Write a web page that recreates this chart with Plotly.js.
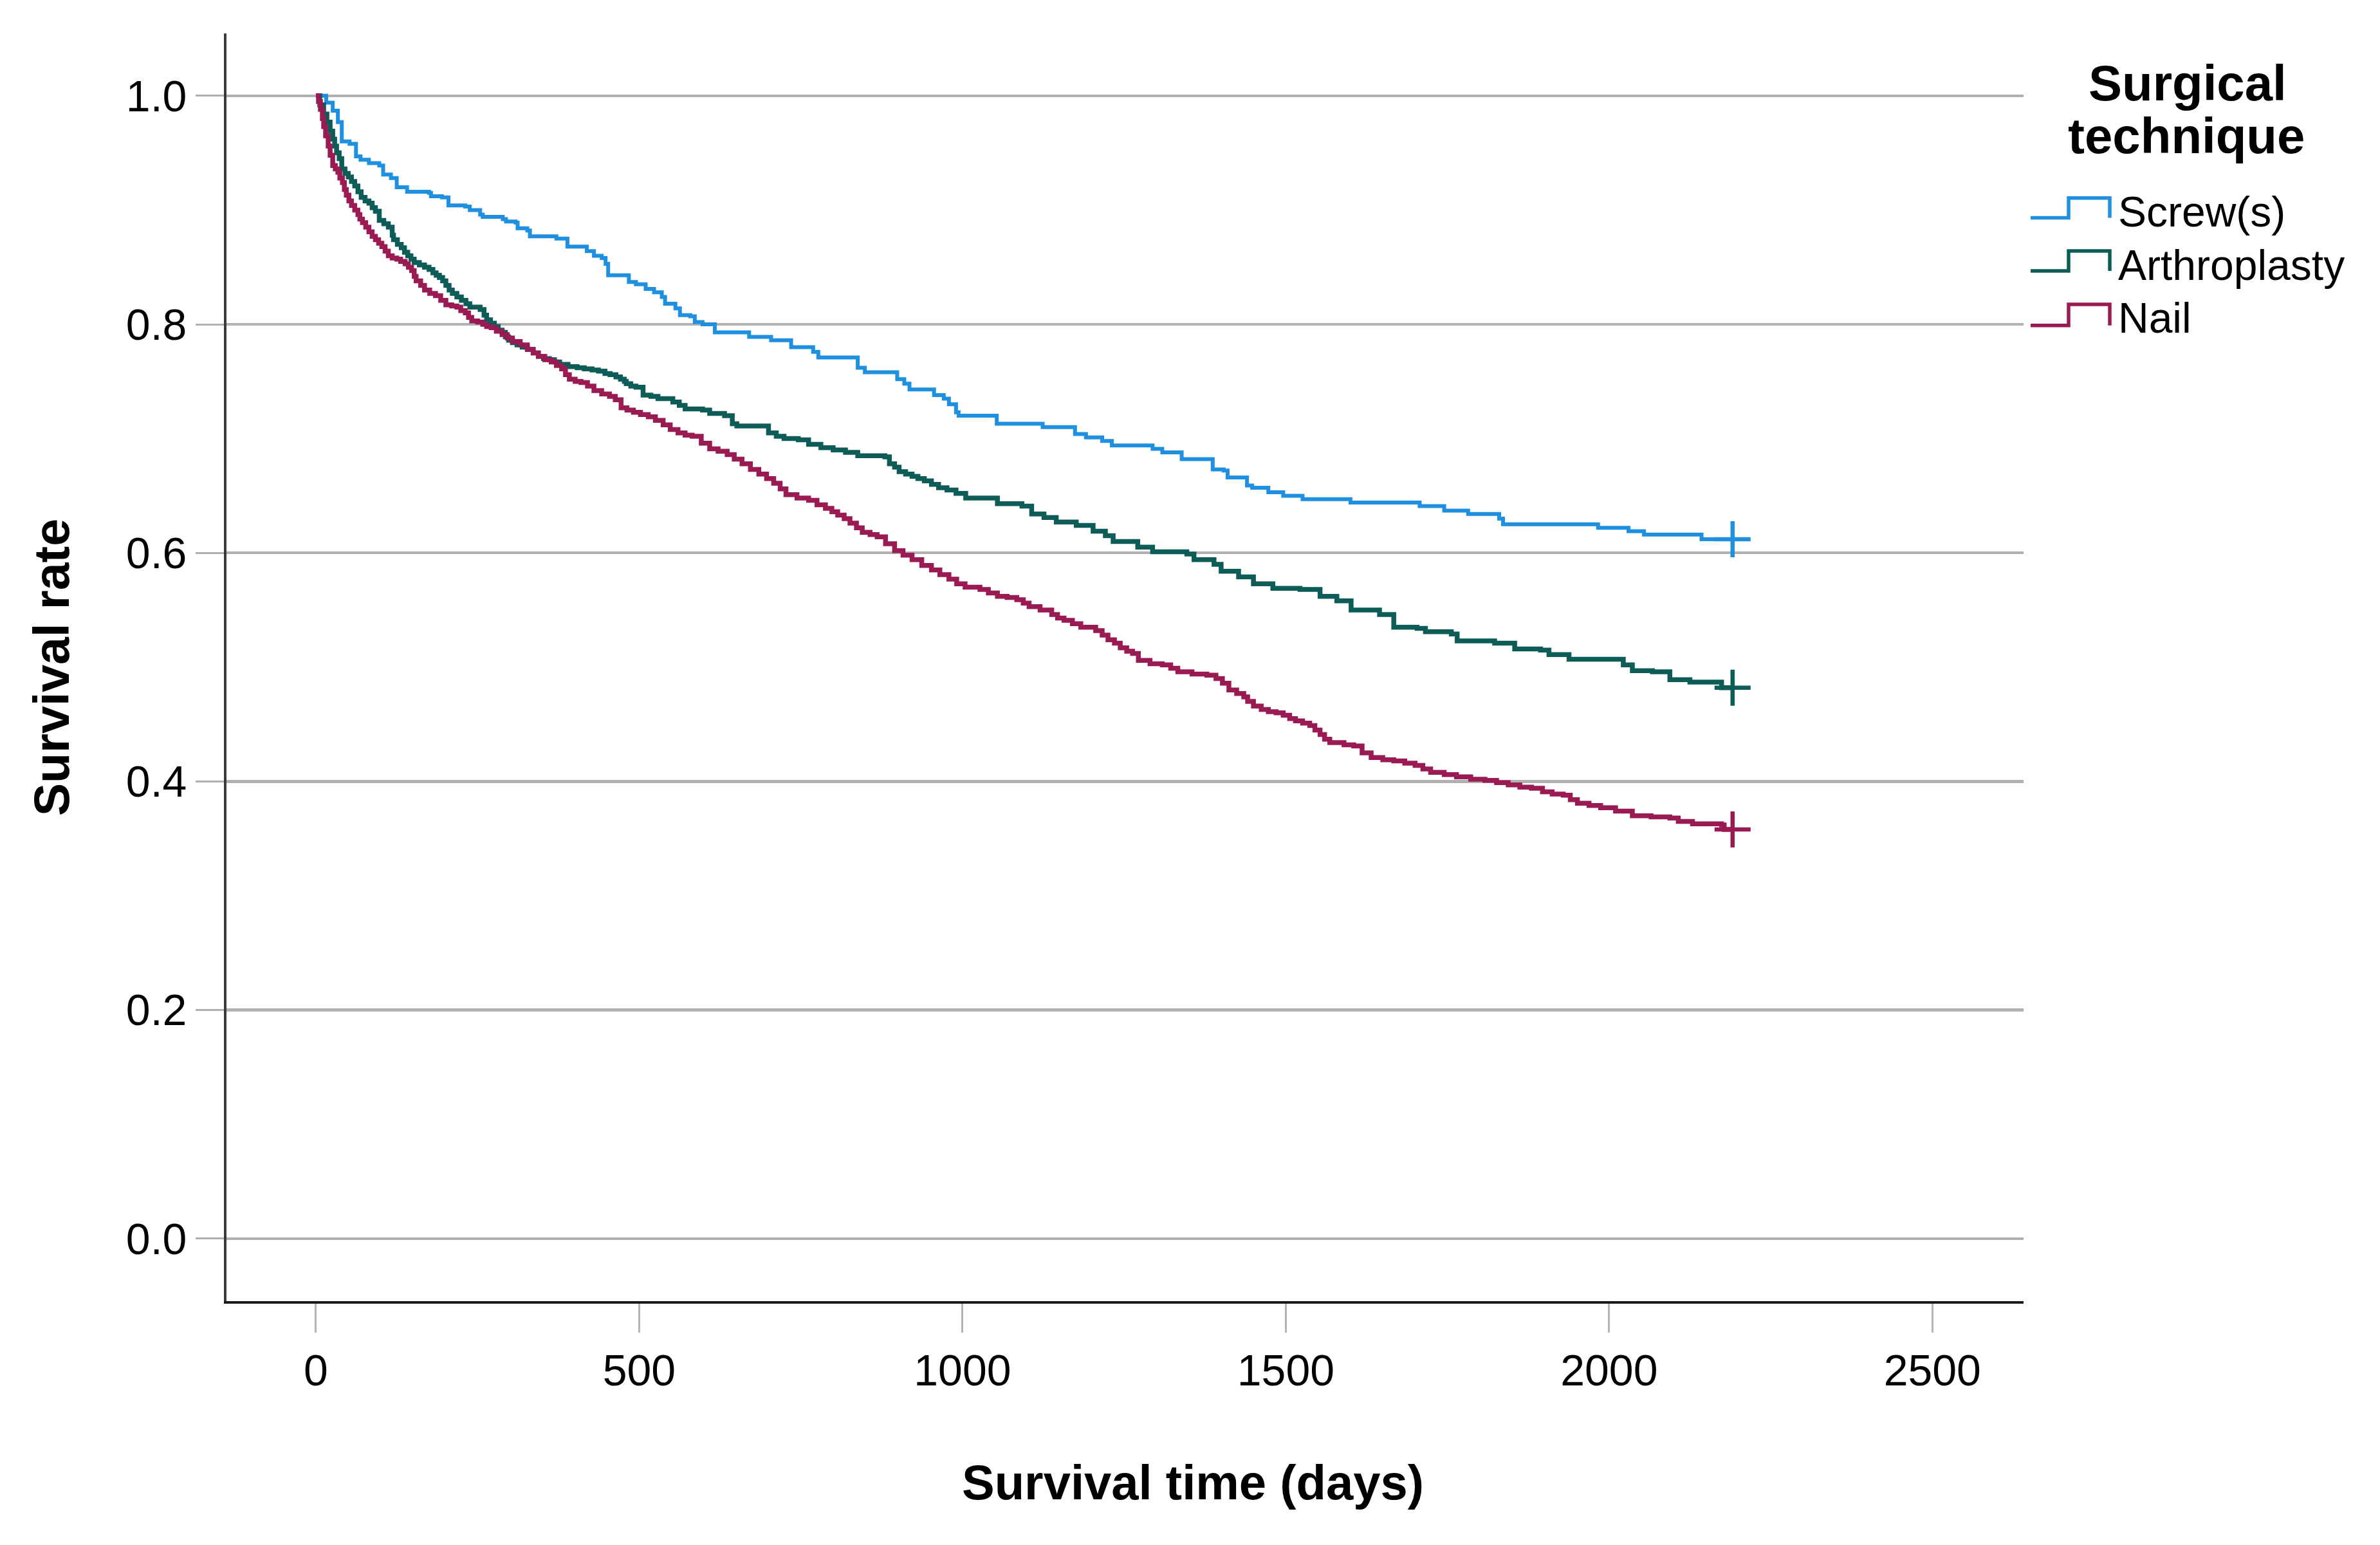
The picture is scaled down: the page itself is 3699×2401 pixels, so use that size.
<!DOCTYPE html>
<html>
<head>
<meta charset="utf-8">
<script src="https://cdn.plot.ly/plotly-3.0.1.min.js"></script>
<style>html,body{margin:0;padding:0;background:#fff;}#chart{width:3699px;height:2401px;}</style>
</head>
<body>
<div id="chart"></div>
<script>
// ---------------- DATA ----------------
const seriesNames = ["Screw(s)", "Arthroplasty", "Nail"];
const xTickVals = [0, 500, 1000, 1500, 2000, 2500];
const yTickVals = [0.0, 0.2, 0.4, 0.6, 0.8, 1.0];

const screwDays = [0,16,26,34,40,52,62,69,82,98,104,116,125,141,175,178,195,205,231,238,254,258,289,294,309,312,327,331,372,389,419,430,442,448,452,484,495,510,523,535,540,556,563,579,586,598,617,670,704,735,769,777,838,849,899,910,918,956,971,979,990,994,1053,1124,1174,1191,1216,1231,1294,1309,1339,1387,1404,1410,1440,1448,1473,1496,1526,1600,1707,1745,1782,1830,1836,1983,2030,2054,2143,2191];
const screwSurv = [1.000,0.994,0.987,0.977,0.960,0.958,0.947,0.944,0.941,0.939,0.931,0.928,0.920,0.916,0.915,0.912,0.911,0.904,0.903,0.900,0.896,0.894,0.892,0.890,0.889,0.884,0.882,0.877,0.875,0.868,0.864,0.860,0.858,0.853,0.843,0.837,0.835,0.831,0.828,0.824,0.818,0.814,0.808,0.807,0.802,0.800,0.793,0.789,0.786,0.780,0.776,0.771,0.762,0.758,0.752,0.748,0.743,0.738,0.735,0.730,0.723,0.720,0.713,0.710,0.704,0.701,0.698,0.694,0.691,0.688,0.682,0.673,0.672,0.666,0.659,0.657,0.653,0.650,0.647,0.644,0.641,0.637,0.634,0.630,0.625,0.622,0.619,0.616,0.612,0.612];

const arthroDays = [0,6,12,17,22,26,29,32,36,40,45,50,55,60,65,70,76,82,87,92,98,105,112,118,120,126,132,137,142,147,152,160,168,175,181,186,191,196,201,206,211,218,225,232,238,254,260,264,270,276,282,288,293,298,304,311,319,327,336,344,352,361,369,377,390,404,415,427,437,447,455,464,471,477,480,487,495,506,518,529,552,562,571,598,609,632,644,651,700,712,724,746,762,781,800,819,838,880,887,895,902,912,922,931,941,952,963,976,990,1005,1054,1092,1107,1126,1145,1176,1202,1221,1233,1271,1294,1347,1358,1389,1400,1427,1450,1480,1522,1553,1579,1601,1645,1667,1703,1716,1756,1765,1823,1854,1894,1907,1938,1992,2022,2036,2067,2094,2125,2160,2174,2191];
const arthroSurv = [1.000,0.992,0.984,0.977,0.969,0.962,0.956,0.950,0.945,0.936,0.932,0.929,0.925,0.921,0.916,0.911,0.908,0.906,0.902,0.899,0.891,0.888,0.885,0.878,0.874,0.870,0.867,0.863,0.860,0.857,0.854,0.852,0.850,0.848,0.845,0.843,0.841,0.838,0.834,0.830,0.827,0.824,0.821,0.818,0.815,0.813,0.808,0.804,0.801,0.798,0.795,0.793,0.789,0.786,0.784,0.782,0.780,0.778,0.775,0.772,0.770,0.769,0.767,0.765,0.763,0.762,0.761,0.760,0.759,0.757,0.756,0.754,0.752,0.750,0.748,0.746,0.745,0.738,0.737,0.735,0.732,0.729,0.726,0.725,0.722,0.720,0.713,0.711,0.705,0.702,0.700,0.699,0.695,0.692,0.690,0.688,0.685,0.684,0.678,0.675,0.671,0.669,0.667,0.665,0.663,0.660,0.657,0.655,0.652,0.648,0.643,0.641,0.634,0.631,0.627,0.624,0.619,0.615,0.610,0.605,0.601,0.599,0.594,0.590,0.584,0.579,0.573,0.569,0.568,0.562,0.558,0.550,0.546,0.535,0.534,0.531,0.529,0.523,0.521,0.516,0.515,0.511,0.507,0.507,0.502,0.497,0.496,0.489,0.487,0.487,0.482,0.482];

const nailDays = [0,4,7,10,12,15,19,22,26,30,34,37,41,44,47,51,55,60,65,68,72,77,82,87,92,97,102,107,112,118,125,131,138,143,148,152,155,162,168,176,185,193,201,210,218,224,231,236,241,250,258,264,271,279,288,296,304,316,327,336,344,354,364,372,380,386,392,401,410,420,430,442,454,463,472,481,491,502,514,525,537,548,560,571,582,596,609,622,636,647,659,672,685,697,708,718,727,744,762,775,788,798,807,817,826,836,845,857,868,881,895,908,922,937,952,965,979,991,1004,1027,1040,1054,1069,1084,1094,1103,1120,1138,1147,1157,1170,1183,1206,1216,1225,1235,1244,1254,1263,1272,1290,1309,1322,1333,1355,1378,1392,1402,1412,1424,1435,1441,1450,1462,1473,1485,1496,1506,1515,1526,1537,1545,1553,1560,1568,1590,1605,1618,1632,1650,1667,1684,1700,1712,1724,1745,1764,1786,1808,1826,1844,1862,1880,1897,1912,1929,1940,1951,1969,1987,2010,2036,2065,2094,2107,2129,2174,2178,2191];
const nailSurv = [1.000,0.995,0.988,0.980,0.973,0.965,0.956,0.948,0.939,0.936,0.933,0.928,0.924,0.918,0.913,0.908,0.904,0.900,0.896,0.892,0.889,0.885,0.881,0.877,0.874,0.871,0.868,0.864,0.860,0.858,0.857,0.855,0.853,0.850,0.847,0.842,0.838,0.834,0.830,0.827,0.825,0.821,0.817,0.816,0.815,0.812,0.810,0.806,0.803,0.802,0.800,0.798,0.797,0.794,0.791,0.788,0.785,0.782,0.778,0.775,0.772,0.769,0.767,0.764,0.761,0.756,0.752,0.750,0.749,0.746,0.742,0.739,0.737,0.734,0.727,0.725,0.723,0.721,0.719,0.716,0.712,0.708,0.705,0.703,0.702,0.696,0.691,0.689,0.686,0.682,0.678,0.673,0.669,0.665,0.661,0.656,0.651,0.648,0.646,0.642,0.639,0.636,0.633,0.630,0.626,0.622,0.618,0.616,0.614,0.608,0.602,0.598,0.594,0.589,0.585,0.581,0.577,0.573,0.570,0.568,0.565,0.562,0.561,0.559,0.556,0.553,0.550,0.546,0.543,0.541,0.538,0.535,0.532,0.528,0.524,0.521,0.517,0.514,0.512,0.506,0.503,0.502,0.499,0.496,0.494,0.493,0.490,0.486,0.480,0.477,0.474,0.470,0.466,0.463,0.461,0.460,0.458,0.455,0.453,0.451,0.449,0.445,0.441,0.437,0.434,0.432,0.431,0.425,0.421,0.419,0.418,0.416,0.414,0.411,0.408,0.406,0.404,0.402,0.401,0.399,0.397,0.395,0.394,0.391,0.389,0.388,0.384,0.381,0.379,0.377,0.374,0.370,0.369,0.368,0.365,0.363,0.362,0.358,0.358];

// ---------------- STYLE ----------------
const colors = ["#1f8fdf", "#0d5c57", "#9a1a53"];
const widths = [6, 7.5, 7.5];
const FONT = "Liberation Sans, Arial, Helvetica, sans-serif";

const W = 3699, H = 2401;
const L = 352, R = 3145, T = 52, B = 2022;
function px(X) { return (X - L) / (R - L); }
function py(Y) { return (B - Y) / (B - T); }

const allDays = [screwDays, arthroDays, nailDays];
const allSurv = [screwSurv, arthroSurv, nailSurv];

const traces = [];
allDays.forEach((d, i) => {
  traces.push({
    type: "scatter", mode: "lines", name: seriesNames[i],
    x: d, y: allSurv[i],
    line: { shape: "hv", color: colors[i], width: widths[i] },
    showlegend: false, hoverinfo: "skip"
  });
});
// censored marks at the end of each curve
allDays.forEach((d, i) => {
  const s = allSurv[i];
  traces.push({
    type: "scatter", mode: "markers", name: seriesNames[i] + " censored",
    x: [d[d.length - 1]], y: [s[s.length - 1]],
    marker: { symbol: "cross-thin", size: 40, color: colors[i], line: { color: colors[i], width: 6.5 } },
    showlegend: false, hoverinfo: "skip", cliponaxis: false
  });
});

// legend built from annotations + step-shaped icons
const legendY = [ [338.5, 307.7, 329.1], [421, 390, 411.7], [505.8, 473, 494.4] ];
const shapes = [];
const annotations = [];
seriesNames.forEach((n, i) => {
  const [yl, yh, yc] = legendY[i];
  const x1 = px(3156), x2 = px(3215), x3 = px(3279);
  shapes.push({
    type: "path", xref: "paper", yref: "paper",
    path: `M ${x1},${py(yl)} L ${x2},${py(yl)} L ${x2},${py(yh)} L ${x3},${py(yh)} L ${x3},${py(yl)}`,
    line: { color: colors[i], width: 5.5 }, fillcolor: "rgba(0,0,0,0)"
  });
  annotations.push({
    xref: "paper", yref: "paper", x: px(3290), y: py(yc),
    xanchor: "left", yanchor: "middle", showarrow: false,
    text: n, font: { family: FONT, size: 66, color: "#000" }
  });
});
annotations.push({
  xref: "paper", yref: "paper", x: px(3400), y: py(128.8), xanchor: "center", yanchor: "middle",
  showarrow: false, text: "Surgical", font: { family: FONT, size: 78, color: "#000", weight: "bold" }
});
annotations.push({
  xref: "paper", yref: "paper", x: px(3398), y: py(211.5), xanchor: "center", yanchor: "middle",
  showarrow: false, text: "technique", font: { family: FONT, size: 78, color: "#000", weight: "bold" }
});
annotations.push({
  xref: "paper", yref: "paper", x: px(1854), y: py(2303.7), xanchor: "center", yanchor: "middle",
  showarrow: false, text: "Survival time (days)", font: { family: FONT, size: 76, color: "#000", weight: "bold" }
});
annotations.push({
  xref: "paper", yref: "paper", x: px(80.3), y: py(1037), xanchor: "center", yanchor: "middle",
  textangle: -90, showarrow: false, text: "Survival rate", font: { family: FONT, size: 77, color: "#000", weight: "bold" }
});

const layout = {
  width: W, height: H,
  margin: { l: L, r: W - R, t: T, b: H - B, pad: 0 },
  paper_bgcolor: "#fff", plot_bgcolor: "#fff",
  font: { family: FONT, color: "#000" },
  showlegend: false,
  xaxis: {
    range: [-138.3, 2641], tickvals: xTickVals, ticktext: xTickVals.map(String),
    showgrid: false, zeroline: false,
    showline: true, linecolor: "#1a1a1a", linewidth: 4,
    ticks: "outside", ticklen: 45, tickwidth: 3, tickcolor: "#b4b4b4",
    tickfont: { family: FONT, size: 68, color: "#000" }
  },
  yaxis: {
    range: [-0.0547, 1.0545], tickvals: yTickVals, ticktext: yTickVals.map(v => v.toFixed(1)),
    showgrid: true, gridcolor: "#b0b0b0", gridwidth: 4.5, zeroline: false,
    showline: true, linecolor: "#3a3a3a", linewidth: 4,
    ticks: "outside", ticklen: 44, tickwidth: 3, tickcolor: "#b0b0b0",
    tickfont: { family: FONT, size: 68, color: "#000" }
  },
  shapes: shapes,
  annotations: annotations
};

Plotly.newPlot("chart", traces, layout, { staticPlot: true, displayModeBar: false });
</script>
</body>
</html>
